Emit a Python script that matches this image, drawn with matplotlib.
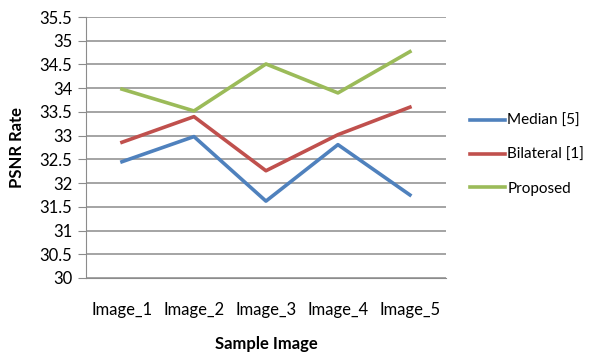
import matplotlib.pyplot as plt

plt.rcParams['font.family'] = ['Lato', 'DejaVu Sans']

images = ['Image_1', 'Image_2', 'Image_3', 'Image_4', 'Image_5']
median = [32.45, 32.98, 31.62, 32.81, 31.75]
bilateral = [32.86, 33.40, 32.26, 33.02, 33.60]
proposed = [33.98, 33.52, 34.51, 33.90, 34.77]
yticks = [30, 30.5, 31, 31.5, 32, 32.5, 33, 33.5, 34, 34.5, 35, 35.5]

fig = plt.figure(figsize=(5.91, 3.58), dpi=100)
ax = fig.add_axes([0.1455, 0.2235, 0.609, 0.729])

x = range(len(images))
ax.plot(x, median, color='#4F81BD', lw=2.6, label='Median [5]')
ax.plot(x, bilateral, color='#C0504D', lw=2.6, label='Bilateral [1]')
ax.plot(x, proposed, color='#9BBB59', lw=2.6, label='Proposed')

ax.set_xlim(-0.5, 4.5)
ax.set_ylim(30, 35.5)
ax.set_yticks(yticks)
ax.set_yticklabels([f'{v:g}' for v in yticks])
ax.set_xticks(list(x))
ax.set_xticklabels(images)
ax.grid(axis='y', color='#8c8c8c', lw=1.1)
ax.set_axisbelow(True)

for s in ['top', 'right']:
    ax.spines[s].set_visible(False)
ax.spines['left'].set_color('#8c8c8c')
ax.spines['bottom'].set_color('#8c8c8c')
ax.tick_params(axis='y', length=6, color='#8c8c8c', labelsize=12, pad=4)
ax.tick_params(axis='x', length=0, labelsize=12, pad=17)

ax.set_ylabel('PSNR Rate', fontsize=12, fontweight='bold', labelpad=10)
ax.set_xlabel('Sample Image', fontsize=12, fontweight='bold', labelpad=13)

ax.legend(loc='center left', bbox_to_anchor=(1.028, 0.472), frameon=False,
          fontsize=11, handlelength=2.3, handletextpad=0.15, labelspacing=1.3)

fig.savefig('out.png', dpi=100)
